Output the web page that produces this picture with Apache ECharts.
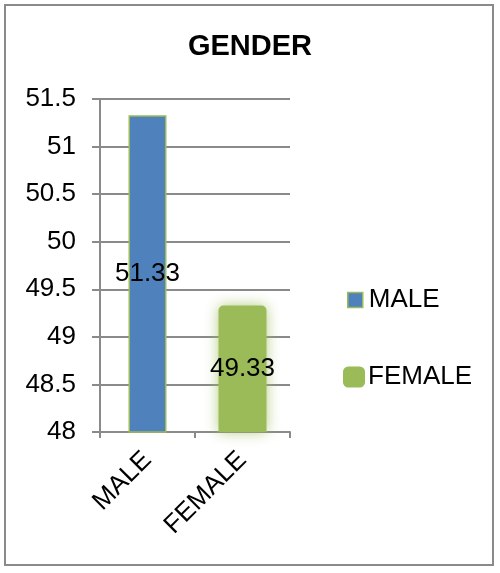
<!DOCTYPE html>
<html><head><meta charset="utf-8">
<script src="https://cdn.jsdelivr.net/npm/echarts@6/dist/echarts.min.js"></script>
<style>html,body{margin:0;padding:0;background:#fff}#c{width:500px;height:573px}</style>
</head><body><div id="c"></div>
<script>
var categories = ['MALE', 'FEMALE'];
var maleValues = [51.33, '-'];
var femaleValues = ['-', 49.33];
var seriesNames = ['MALE', 'FEMALE'];
var yMin = 48, yMax = 51.5, yStep = 0.5;

var FONT = '"Liberation Sans", Arial, sans-serif';
var GRAY = '#8a8a8a';
var chart = echarts.init(document.getElementById('c'), null, {renderer: 'canvas'});
var xCommon = {
  type: 'category', data: categories, gridIndex: 0
};
chart.setOption({
  backgroundColor: '#fff',
  animation: false,
  title: {
    text: 'GENDER', left: 'center', top: 27,
    textStyle: {fontFamily: FONT, fontSize: 29, fontWeight: 'bold', color: '#000'}
  },
  graphic: [{
    type: 'rect', shape: {x: 5, y: 5, width: 488, height: 560},
    style: {fill: 'none', stroke: GRAY, lineWidth: 2}, silent: true
  }],
  legend: [{
    data: [seriesNames[0]], orient: 'vertical', left: 347, top: 287, padding: 0,
    itemWidth: 15, itemHeight: 15, itemGap: 0, selectedMode: false,
    icon: 'rect',
    itemStyle: {shadowBlur: 0, borderColor: '#9bbb59', borderWidth: 1.5},
    textStyle: {fontFamily: FONT, fontSize: 26, color: '#000', padding: [0,0,0,1]}
  }, {
    data: [seriesNames[1]], orient: 'vertical', left: 343, top: 364, padding: 0,
    itemWidth: 22, itemHeight: 21, itemGap: 0, selectedMode: false,
    icon: 'roundRect',
    itemStyle: {shadowBlur: 0, borderWidth: 0},
    textStyle: {fontFamily: FONT, fontSize: 26, color: '#000', padding: [0,0,0,-2]}
  }],
  grid: {left: 100, right: 210, top: 99, bottom: 141, containLabel: false},
  xAxis: [Object.assign({}, xCommon, {
    axisLine: {show: true, lineStyle: {color: GRAY, width: 2}},
    axisTick: {show: true, length: 6, lineStyle: {color: GRAY, width: 2}},
    axisLabel: {rotate: 45, margin: 24, fontFamily: FONT, fontSize: 26, color: '#000'}
  }), Object.assign({}, xCommon, {show: false, position: 'bottom'})],
  yAxis: {
    type: 'value', min: yMin, max: yMax, interval: yStep,
    axisLine: {show: true, lineStyle: {color: GRAY, width: 2}},
    axisTick: {show: true, length: 8, lineStyle: {color: GRAY, width: 2}},
    splitLine: {show: true, lineStyle: {color: GRAY, width: 2}},
    axisLabel: {margin: 24, fontFamily: FONT, fontSize: 26, color: '#000'}
  },
  series: [{
    name: seriesNames[0], type: 'bar', xAxisIndex: 0, data: maleValues, barWidth: 38,
    itemStyle: {color: '#4f81bd', borderColor: '#9bbb59', borderWidth: 1.5},
    label: {show: true, position: 'inside', fontFamily: FONT, fontSize: 26, color: '#000'},
    z: 3
  }, {
    name: seriesNames[1], type: 'bar', xAxisIndex: 1, data: femaleValues, barWidth: 48,
    itemStyle: {color: '#9bbb59', borderRadius: [5,5,0,0], shadowBlur: 14, shadowColor: 'rgba(155,187,89,0.75)'},
    label: {show: true, position: 'inside', fontFamily: FONT, fontSize: 26, color: '#000'},
    z: 3
  }]
});
</script></body></html>
